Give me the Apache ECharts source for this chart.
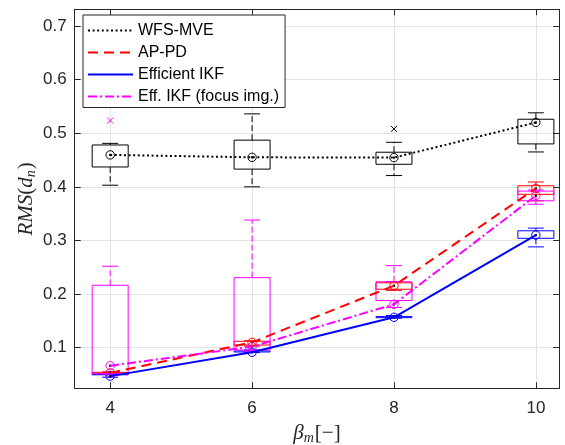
<!DOCTYPE html>
<html>
<head>
<meta charset="utf-8">
<script src="https://cdn.jsdelivr.net/npm/echarts@6/dist/echarts.min.js"></script>
<style>html,body{margin:0;padding:0;background:#fff}#c{width:565px;height:445px}</style>
</head>
<body>
<div id="c"></div>
<script>
// ---- data ----
const betaM = [4, 6, 8, 10];
const xTicks = [4, 6, 8, 10];
const yTicks = [0.1, 0.2, 0.3, 0.4, 0.5, 0.6, 0.7];
const seriesNames = ['WFS-MVE', 'AP-PD', 'Efficient IKF', 'Eff. IKF (focus img.)'];

// box statistics per method: lower whisker, q1, median, q3, upper whisker
const wfsLow = [0.403, 0.400, 0.421, 0.465];
const wfsQ1  = [0.437, 0.433, 0.442, 0.480];
const wfsMed = [0.4595, 0.455, 0.4545, 0.520];
const wfsQ3  = [0.478, 0.487, 0.4645, 0.526];
const wfsHigh= [0.481, 0.536, 0.483, 0.538];
const wfsOut = [[8, 0.508]];

const apLow  = [0.050, 0.103, 0.207, 0.374];
const apQ1   = [0.051, 0.105, 0.209, 0.386];
const apMed  = [0.053, 0.110, 0.2157, 0.397];
const apQ3   = [0.054, 0.112, 0.221, 0.402];
const apHigh = [0.055, 0.113, 0.223, 0.409];
const apOut  = [];

const ikfLow = [0.045, 0.091, 0.155, 0.288];
const ikfQ1  = [0.0495, 0.092, 0.156, 0.304];
const ikfMed = [0.047, 0.0915, 0.1567, 0.310];
const ikfQ3  = [0.051, 0.094, 0.158, 0.318];
const ikfHigh= [0.052, 0.096, 0.160, 0.323];
const ikfOut = [];

const focLow = [0.051, 0.094, 0.175, 0.3675];
const focQ1  = [0.0515, 0.0957, 0.188, 0.374];
const focMed = [0.0664, 0.102, 0.181, 0.3836];
const focQ3  = [0.2164, 0.2306, 0.223, 0.392];
const focHigh= [0.2519, 0.338, 0.253, 0.394];
const focOut = [[4, 0.5235]];

// ---- styles ----
const colors = ['#000000', '#ff0000', '#0000ff', '#ff00ff'];
const lineDashes = [[2, 2.6], [10, 6], 'solid', [9, 3, 2, 3]];
const BOX_HALF = 18, CAP_HALF = 8, MED_R = 4.2;

const stats = [
  [wfsLow, wfsQ1, wfsMed, wfsQ3, wfsHigh, wfsOut],
  [apLow, apQ1, apMed, apQ3, apHigh, apOut],
  [ikfLow, ikfQ1, ikfMed, ikfQ3, ikfHigh, ikfOut],
  [focLow, focQ1, focMed, focQ3, focHigh, focOut]
];

function boxRender(color) {
  return function (params, api) {
    const x = api.value(0);
    const lo = api.coord([x, api.value(1)]);
    const q1 = api.coord([x, api.value(2)]);
    const md = api.coord([x, api.value(3)]);
    const q3 = api.coord([x, api.value(4)]);
    const hi = api.coord([x, api.value(5)]);
    const cx = md[0];
    const st = {stroke: color, lineWidth: 1, fill: null};
    const dash = {stroke: color, lineWidth: 1, lineDash: [6, 3], fill: null};
    return {
      type: 'group',
      children: [
        {type: 'line', shape: {x1: cx, y1: q3[1], x2: cx, y2: hi[1]}, style: dash},
        {type: 'line', shape: {x1: cx, y1: q1[1], x2: cx, y2: lo[1]}, style: dash},
        {type: 'line', shape: {x1: cx - CAP_HALF, y1: hi[1], x2: cx + CAP_HALF, y2: hi[1]}, style: st},
        {type: 'line', shape: {x1: cx - CAP_HALF, y1: lo[1], x2: cx + CAP_HALF, y2: lo[1]}, style: st},
        {type: 'rect', shape: {x: cx - BOX_HALF, y: q3[1], width: 2 * BOX_HALF, height: q1[1] - q3[1]}, style: st},
        {type: 'circle', shape: {cx: cx, cy: md[1], r: MED_R}, style: st},
        {type: 'circle', shape: {cx: cx, cy: md[1], r: 1.2}, style: {fill: '#000', stroke: null}}
      ]
    };
  };
}
function outRender(color) {
  return function (params, api) {
    const p = api.coord([api.value(0), api.value(1)]);
    const s = 3;
    const st = {stroke: color, lineWidth: 1};
    return {type: 'group', children: [
      {type: 'line', shape: {x1: p[0] - s, y1: p[1] - s, x2: p[0] + s, y2: p[1] + s}, style: st},
      {type: 'line', shape: {x1: p[0] - s, y1: p[1] + s, x2: p[0] + s, y2: p[1] - s}, style: st}
    ]};
  };
}

const series = [];
stats.forEach((s, k) => {
  series.push({
    type: 'custom', name: 'box' + k, z: 2,
    renderItem: boxRender(colors[k]),
    data: betaM.map((b, i) => [b, s[0][i], s[1][i], s[2][i], s[3][i], s[4][i]]),
    encode: {x: 0, y: [1, 2, 3, 4, 5]}, silent: true
  });
  if (s[5].length) series.push({
    type: 'custom', name: 'out' + k, z: 2,
    renderItem: outRender(colors[k]),
    data: s[5], encode: {x: 0, y: 1}, silent: true
  });
});
stats.forEach((s, k) => {
  series.push({
    type: 'line', name: seriesNames[k], z: 3,
    symbol: 'none', showSymbol: false, color: colors[k],
    itemStyle: {opacity: 0},
    lineStyle: {color: colors[k], width: 2, type: lineDashes[k]},
    data: betaM.map((b, i) => [b, s[2][i]])
  });
});

const axisCol = '#262626';
const chart = echarts.init(document.getElementById('c'), null, {renderer: 'canvas'});
chart.setOption({
  animation: false,
  backgroundColor: '#fff',
  textStyle: {fontFamily: 'Liberation Sans'},
  grid: {left: 74.7, right: 5.7, top: 9.3, bottom: 56.7, containLabel: false, outerBoundsMode: 'none'},
  legend: {
    data: seriesNames, orient: 'vertical', left: 83, top: 15,
    itemWidth: 45, itemHeight: 14, itemGap: 3,
    padding: [6, 6, 1.5, 4],
    itemStyle: {opacity: 0},
    borderColor: axisCol, borderWidth: 1, backgroundColor: '#fff',
    textStyle: {fontSize: 16, color: '#000', fontFamily: 'Liberation Sans', lineHeight: 19},
    selectedMode: false
  },
  xAxis: [{
    type: 'value', min: 3.5, max: 10.33,
    axisLine: {lineStyle: {color: axisCol}},
    axisTick: {inside: true, length: 6, customValues: xTicks, lineStyle: {color: axisCol}},
    axisLabel: {customValues: xTicks, fontSize: 17, color: axisCol, margin: 12},
    splitLine: {show: true, lineStyle: {color: '#e3e3e3'}},
    name: '{i|β}{s|m}{p|[−]}', nameLocation: 'middle', nameGap: 33, nameMoveOverlap: false,
    nameTextStyle: {rich: {
      i: {fontFamily: 'Liberation Serif', fontStyle: 'italic', fontSize: 21, color: axisCol},
      s: {fontFamily: 'Liberation Serif', fontStyle: 'italic', fontSize: 14, color: axisCol, padding: [10, 1, 0, 0]},
      p: {fontFamily: 'Liberation Serif', fontSize: 21, color: axisCol}
    }}
  }, {
    type: 'value', min: 3.5, max: 10.33, position: 'top',
    axisLine: {lineStyle: {color: axisCol}},
    axisTick: {inside: true, length: 6, customValues: xTicks, lineStyle: {color: axisCol}},
    axisLabel: {show: false},
    splitLine: {show: false}
  }],
  yAxis: [{
    type: 'value', min: 0.0243, max: 0.731,
    axisLine: {show: true, lineStyle: {color: axisCol}},
    axisTick: {show: true, inside: true, length: 6, customValues: yTicks, lineStyle: {color: axisCol}},
    axisLabel: {customValues: yTicks, fontSize: 17, color: axisCol, margin: 8,
      formatter: v => v.toFixed(1)},
    splitLine: {show: true, lineStyle: {color: '#e3e3e3'}},
    name: '{i|RMS}{p|(}{i|d}{s|n}{p|)}', nameLocation: 'middle', nameGap: 36, nameMoveOverlap: false,
    nameTextStyle: {rich: {
      i: {fontFamily: 'Liberation Serif', fontStyle: 'italic', fontSize: 21, color: axisCol},
      s: {fontFamily: 'Liberation Serif', fontStyle: 'italic', fontSize: 14, color: axisCol, padding: [10, 1, 0, 0]},
      p: {fontFamily: 'Liberation Serif', fontSize: 21, color: axisCol}
    }}
  }, {
    type: 'value', min: 0.0243, max: 0.731, position: 'right',
    axisLine: {show: true, lineStyle: {color: axisCol}},
    axisTick: {show: true, inside: true, length: 6, customValues: yTicks, lineStyle: {color: axisCol}},
    axisLabel: {show: false},
    splitLine: {show: false}
  }],
  series: series
});
</script>
</body>
</html>
